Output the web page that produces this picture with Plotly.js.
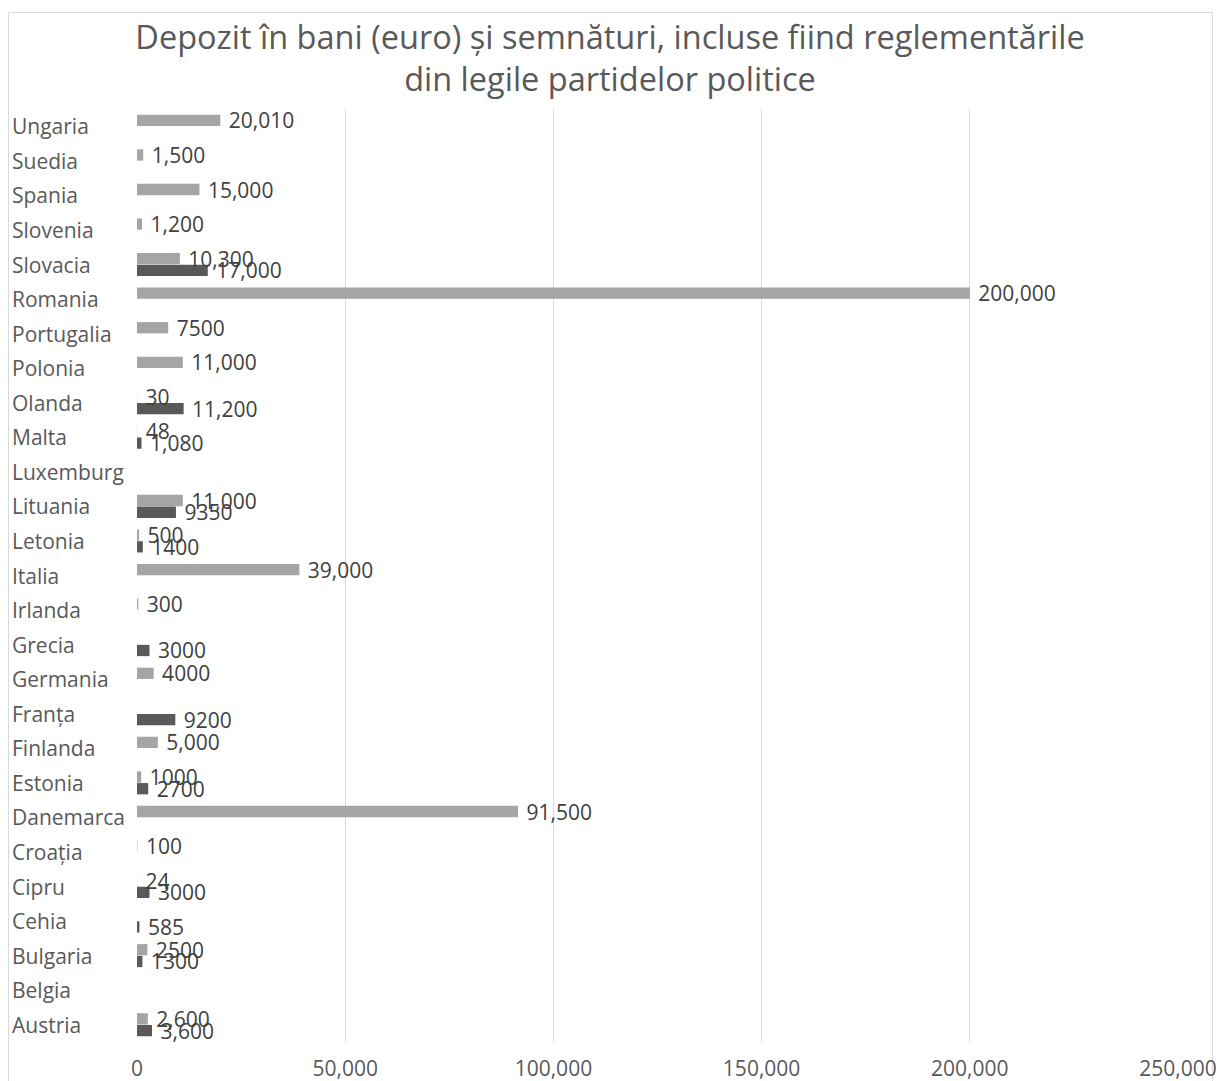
<!DOCTYPE html>
<html>
<head>
<meta charset="utf-8">
<script src="https://cdn.plot.ly/plotly-3.0.1.min.js"></script>
<style>
html,body{margin:0;padding:0;background:#fff;}
#chart{width:1220px;height:1081px;}
</style>
</head>
<body>
<div id="chart"></div>
<script>
// Categories, bottom to top
var countries = ["Austria","Belgia","Bulgaria","Cehia","Cipru","Croația","Danemarca","Estonia","Finlanda","Franța","Germania","Grecia","Irlanda","Italia","Letonia","Lituania","Luxemburg","Malta","Olanda","Polonia","Portugalia","Romania","Slovacia","Slovenia","Spania","Suedia","Ungaria"];

// Light series (upper bar in each group)
var lightValues = [2600,null,2500,null,24,100,91500,1000,5000,null,4000,null,300,39000,500,11000,null,48,30,11000,7500,200000,10300,1200,15000,1500,20010];
var lightLabels = ["2,600","","2500","","24","100","91,500","1000","5,000","","4000","","300","39,000","500","11,000","","48","30","11,000","7500","200,000","10,300","1,200","15,000","1,500","20,010"];

// Dark series (lower bar in each group)
var darkValues = [3600,null,1300,585,3000,null,null,2700,null,9200,null,3000,null,null,1400,9350,null,1080,11200,null,null,null,17000,null,null,null,null];
var darkLabels = ["3,600","","1300","585","3000","","","2700","","9200","","3000","","","1400","9350","","1,080","11,200","","","","17,000","","","",""];

var xTickVals = [0,50000,100000,150000,200000,250000];

var titleText = "Depozit în bani (euro) și semnături, incluse fiind reglementările<br>din legile partidelor politice";

var FONT = "Open Sans, Noto Sans, sans-serif";
var L = 137, R = 42, T = 109, B = 39, W = 1220, H = 1081;
var pw = W - L - R, ph = H - T - B;

function pad(arr){ return arr.map(function(s){ return s ? "\u00a0" + s : ""; }); }

var traces = [
  {
    type: "bar", orientation: "h", name: "dark",
    y: countries, x: darkValues,
    text: pad(darkLabels), textposition: "outside", cliponaxis: false,
    constraintext: "none",
    textfont: {family: FONT, size: 21, color: "#404040"},
    marker: {color: "#595959"}, hoverinfo: "x+y"
  },
  {
    type: "bar", orientation: "h", name: "light",
    y: countries, x: lightValues,
    text: pad(lightLabels), textposition: "outside", cliponaxis: false,
    constraintext: "none",
    textfont: {family: FONT, size: 21, color: "#404040"},
    marker: {color: "#a5a5a5"}, hoverinfo: "x+y"
  }
];

var annotations = countries.map(function(c){
  return {
    xref: "paper", yref: "y", x: (10 - L) / pw, y: c,
    xanchor: "left", yanchor: "middle", showarrow: false,
    text: c, font: {family: FONT, size: 21, color: "#595959"}
  };
});

var layout = {
  width: W, height: H,
  margin: {l: L, r: R, t: T, b: B, pad: 0},
  paper_bgcolor: "#ffffff", plot_bgcolor: "#ffffff",
  showlegend: false,
  barmode: "group", bargap: 0.32, bargroupgap: 0.04,
  title: {
    text: titleText, x: 0.5, xanchor: "center", y: 1 - 49 / H, yanchor: "middle",
    font: {family: FONT, size: 32.5, color: "#595959"}
  },
  xaxis: {
    range: [0, 250000], tickvals: xTickVals, tickformat: ",",
    showgrid: true, gridcolor: "#d9d9d9", gridwidth: 1,
    zeroline: false, showline: false, ticks: "",
    tickfont: {family: FONT, size: 21, color: "#595959"},
    ticklabelstandoff: 12
  },
  yaxis: {
    type: "category", categoryorder: "array", categoryarray: countries,
    showticklabels: false, showgrid: false, zeroline: false, showline: false, ticks: ""
  },
  annotations: annotations,
  shapes: [{
    type: "rect", xref: "paper", yref: "paper", layer: "below",
    x0: (8.5 - L) / pw, x1: (1212.5 - L) / pw,
    y0: (H - B - 1085) / ph, y1: (H - B - 12.5) / ph,
    line: {color: "#d9d9d9", width: 1}, fillcolor: "rgba(0,0,0,0)"
  }]
};

Plotly.newPlot("chart", traces, layout, {displayModeBar: false, staticPlot: true});
</script>
</body>
</html>
